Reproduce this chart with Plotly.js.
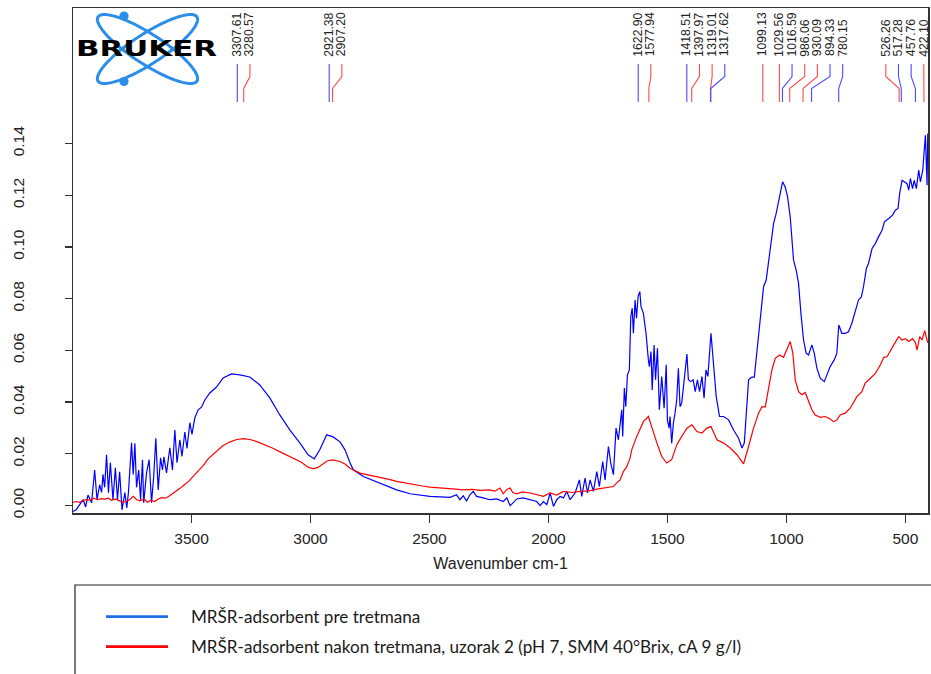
<!DOCTYPE html>
<html><head><meta charset="utf-8">
<script src="https://cdn.plot.ly/plotly-3.0.1.min.js"></script>
<style>html,body{margin:0;padding:0;background:#fff}</style>
</head><body><div id="chart" style="width:931px;height:674px"></div>
<script>
// ---------------- DATA ----------------
const wnBlue = [3998,3985,3970,3955,3945,3935,3920,3907,3897,3886,3878,3872,3865,3857,3849,3841,3830,3820,3811,3802,3792,3786,3780,3772,3765,3752,3745,3738,3731,3722,3714,3706,3701,3689,3678,3668,3659,3650,3640,3630,3622,3616,3605,3591,3580,3570,3561,3549,3540,3528,3519,3507,3498,3486,3472,3458,3444,3423,3395,3367,3332,3297,3255,3213,3171,3129,3087,3045,3010,2984,2961,2932,2905,2876,2855,2834,2820,2778,2708,2638,2582,2498,2414,2386,2372,2358,2344,2330,2316,2302,2274,2246,2217,2190,2175,2161,2150,2133,2106,2077,2049,2035,2021,2007,1993,1979,1965,1951,1937,1923,1909,1888,1870,1860,1846,1836,1825,1811,1797,1786,1772,1762,1748,1738,1727,1716,1706,1692,1688,1681,1675,1668,1660,1654,1648,1643,1636,1630,1623,1616,1611,1601,1590,1580,1576,1569,1564,1556,1550,1542,1534,1524,1514,1505,1500,1493,1489,1482,1475,1468,1461,1454,1447,1440,1429,1418,1412,1402,1392,1383,1374,1365,1355,1346,1338,1330,1317,1306,1295,1281,1264,1243,1222,1201,1187,1177,1173,1164,1159,1152,1145,1135,1124,1110,1096,1085,1075,1065,1054,1043,1033,1023,1016,1005,995,984,977,970,959,949,939,928,917,907,893,883,872,858,841,830,816,799,788,780,767,753,739,725,711,697,685,676,664,655,640,626,613,598,588,577,570,554,542,531,524,514,503,493,486,479,470,463,454,444,437,427,416,409,406];
const absBlue = [-0.0023,-0.0017,0.0003,0.0022,-0.0006,0.004,0.001,0.0137,0.0022,0.008,0.005,0.012,0.007,0.0196,0.0049,0.0165,0.0022,0.0146,0.0022,0.013,-0.0017,0.002,0.005,-0.001,0.005,0.0242,0.012,0.024,0.007,0.0137,0.0022,0.0177,0.001,0.0126,0.0177,0.001,0.011,0.026,0.006,0.0184,0.0137,0.0188,0.0126,0.0223,0.0137,0.0292,0.0165,0.0254,0.019,0.0284,0.022,0.032,0.0275,0.0339,0.037,0.038,0.0408,0.0435,0.0458,0.0493,0.0509,0.0505,0.0497,0.0466,0.0416,0.035,0.0292,0.0242,0.0196,0.018,0.0215,0.0273,0.0265,0.0246,0.0215,0.0165,0.0138,0.0112,0.0087,0.006,0.0045,0.0035,0.0031,0.0041,0.0022,0.0037,0.0018,0.0041,0.0054,0.0035,0.0029,0.0022,0.0025,0.0015,0.0029,-0.0001,0.0009,0.0025,0.0029,0.0022,0.0015,-0.0001,0.0015,0.0003,0.0048,-0.0004,0.0022,0.0035,0.0029,0.0054,0.0022,0.0048,0.0099,0.0035,0.0106,0.0048,0.0099,0.0054,0.0131,0.0073,0.017,0.0099,0.0228,0.0163,0.0119,0.0299,0.0254,0.037,0.0267,0.0454,0.0382,0.0505,0.0524,0.073,0.0763,0.0666,0.0795,0.0724,0.081,0.0827,0.0769,0.0743,0.0666,0.0563,0.0537,0.0595,0.0447,0.0621,0.0486,0.0608,0.037,0.0499,0.0376,0.0544,0.0331,0.0299,0.0344,0.0241,0.0318,0.0357,0.0408,0.0531,0.0382,0.0396,0.0486,0.0586,0.0486,0.0479,0.0486,0.044,0.0486,0.044,0.0499,0.0415,0.0524,0.0499,0.0666,0.055,0.0421,0.0344,0.0344,0.0331,0.0292,0.026,0.0222,0.0241,0.0305,0.0421,0.0486,0.0492,0.0496,0.0496,0.0589,0.0717,0.0846,0.0872,0.0936,0.1014,0.109,0.113,0.118,0.1232,0.1252,0.1232,0.1194,0.1116,0.1026,0.0949,0.091,0.0859,0.0743,0.064,0.0589,0.0582,0.0621,0.0589,0.0531,0.0492,0.0479,0.0505,0.0537,0.0563,0.0589,0.0698,0.0666,0.0666,0.0672,0.0705,0.075,0.0795,0.0807,0.0846,0.0917,0.0936,0.0994,0.1014,0.1039,0.1065,0.1097,0.1104,0.111,0.1123,0.1142,0.1149,0.1207,0.1258,0.1252,0.1245,0.122,0.1265,0.1226,0.1258,0.1226,0.1297,0.1252,0.1297,0.1432,0.1239,0.1439];

const wnRed = [3998,3985,3970,3955,3940,3925,3910,3895,3880,3865,3850,3835,3820,3805,3790,3775,3760,3745,3730,3715,3700,3685,3670,3655,3640,3625,3610,3595,3580,3565,3550,3530,3510,3490,3470,3450,3430,3410,3390,3370,3340,3310,3280,3250,3220,3190,3160,3130,3100,3070,3040,3010,2990,2970,2950,2930,2907,2876,2855,2834,2792,2750,2708,2670,2638,2600,2568,2530,2498,2460,2428,2390,2358,2320,2288,2250,2225,2204,2190,2175,2161,2150,2133,2110,2077,2050,2021,1993,1965,1937,1900,1867,1830,1797,1769,1741,1727,1713,1699,1685,1671,1657,1650,1629,1601,1580,1559,1544,1524,1503,1482,1461,1440,1418,1397,1376,1355,1334,1317,1292,1264,1236,1208,1187,1180,1159,1138,1117,1103,1089,1075,1061,1047,1029,1012,998,984,973,963,949,935,921,907,893,879,858,837,816,802,788,774,753,732,715,704,683,669,647,626,605,591,577,563,549,528,514,500,486,470,458,451,440,430,419,409,406];
const absRed = [0.0012,0.0015,0.0012,0.002,0.0022,0.002,0.0028,0.0022,0.0026,0.0024,0.0028,0.002,0.0025,0.0018,0.0012,0.0015,0.0022,0.0035,0.0022,0.0018,0.0025,0.0012,0.002,0.0015,0.0025,0.003,0.0028,0.0035,0.0045,0.0052,0.0065,0.008,0.0095,0.0115,0.0135,0.0155,0.018,0.0198,0.0215,0.023,0.0245,0.0255,0.0258,0.0254,0.0245,0.0235,0.0222,0.0208,0.0195,0.0182,0.0168,0.0148,0.0142,0.0146,0.0158,0.0172,0.0176,0.017,0.016,0.0144,0.0125,0.0117,0.011,0.0101,0.0093,0.0086,0.008,0.0075,0.0071,0.0069,0.0067,0.0063,0.006,0.0062,0.0058,0.006,0.0055,0.0067,0.0045,0.0062,0.0067,0.005,0.0045,0.0052,0.0048,0.0042,0.0035,0.0048,0.004,0.0054,0.005,0.0054,0.0056,0.0063,0.0067,0.0071,0.0073,0.0087,0.0099,0.0131,0.015,0.0183,0.0215,0.0267,0.0324,0.0344,0.028,0.0241,0.0189,0.0164,0.0177,0.0234,0.0267,0.0299,0.0312,0.0286,0.028,0.0299,0.0305,0.0254,0.0241,0.0222,0.0196,0.017,0.0161,0.0228,0.0299,0.0357,0.0382,0.038,0.046,0.0524,0.0569,0.0582,0.0573,0.0601,0.0634,0.0589,0.0486,0.044,0.0428,0.0437,0.0402,0.037,0.035,0.0341,0.0344,0.0334,0.0324,0.033,0.035,0.0357,0.0376,0.0402,0.0421,0.044,0.0473,0.0492,0.0511,0.0544,0.0573,0.0575,0.0601,0.0621,0.0653,0.064,0.0645,0.0634,0.0645,0.063,0.0601,0.0653,0.064,0.0676,0.064,0.063];

const seriesNames = ['MRŠR-adsorbent pre tretmana',
  'MRŠR-adsorbent nakon tretmana, uzorak 2 (pH 7, SMM 40°Brix, cA 9 g/l)'];

// picked peaks (wavenumber) and the series each belongs to (0 = blue, 1 = red)
const peakWn =     [3307.61,3280.57,2921.38,2907.20,1622.90,1577.94,1418.51,1397.97,1319.01,1317.62,1099.13,1029.56,1016.59,986.06,930.09,894.33,780.15,526.26,517.28,457.76,422.10];
const peakSeries = [0,1,0,1,0,1,0,1,1,0,1,1,0,1,1,0,0,1,0,0,1];

const xTickVals = [3500,3000,2500,2000,1500,1000,500];
const yTickVals = [0,0.02,0.04,0.06,0.08,0.10,0.12,0.14];
const yTickText = ['0.00','0.02','0.04','0.06','0.08','0.10','0.12','0.14'];
const xTitle = 'Wavenumber cm-1';
const logoText = 'BRUKER';

// ---------------- GEOMETRY / STYLE ----------------
const W = 931, H = 674;
const M = {l:73, r:3, t:8, b:161};
const PW = W - M.l - M.r, PH = H - M.t - M.b;
const xRange = [3998, 405];
const yRange = [-0.00294, 0.19246];
const xp = px => (px - M.l) / PW;          // pixel -> paper
const yp = py => (H - M.b - py) / PH;
const lineBlue = '#0000ff', lineRed = '#ff0000';
const markBlue = '#4a4aff', markRed = '#ff4a4a';
const legendBlue = '#1f6fe8', legendRed = '#ff0000';
const logoBlue = '#2b8ee8';
const fontMain = 'Liberation Sans, Arial, sans-serif';

// ---------------- TRACES ----------------
const traces = [
  {x: wnBlue, y: absBlue, type:'scatter', mode:'lines', name: seriesNames[0],
   line:{color: lineBlue, width:1.2}, legend:'legend'},
  {x: wnRed, y: absRed, type:'scatter', mode:'lines', name: seriesNames[1],
   line:{color: lineRed, width:1.2}, legend:'legend2'}
];

// ---------------- PEAK LABELS ----------------
const wnPerPx = (xRange[0] - xRange[1]) / PW;
const gapWn = 12.66 * wnPerPx;
const limitWn = xRange[1] + 4.2 * wnPerPx;
const lab = [];
for (let i = 0; i < peakWn.length; i++) {
  lab[i] = i === 0 ? peakWn[i] : Math.min(peakWn[i], lab[i-1] - gapWn);
}
if (lab[lab.length-1] < limitWn) lab[lab.length-1] = limitWn;
for (let i = lab.length - 2; i >= 0; i--) lab[i] = Math.max(lab[i], lab[i+1] + gapWn);

const shapes = [];
const annotations = [];
peakWn.forEach((wn, i) => {
  const c = peakSeries[i] === 0 ? markBlue : markRed;
  shapes.push({type:'path', xref:'x', yref:'paper', layer:'above',
    path:`M${lab[i]},${yp(64)} L${lab[i]},${yp(76.5)} L${wn},${yp(88.5)} L${wn},${yp(102)}`,
    line:{color:c, width:1.1}});
  annotations.push({xref:'x', yref:'paper', x: lab[i], y: yp(57.5), text: wn.toFixed(2),
    textangle:-90, xanchor:'center', yanchor:'bottom', showarrow:false, borderpad:0,
    font:{family: fontMain, size:12.2, color:'#222'}});
});

// ---------------- LOGO ----------------
function ellipsePts(cx, cy, a, b, deg) {
  const th = deg * Math.PI / 180, pts = [];
  for (let k = 0; k <= 120; k++) {
    const t = 2 * Math.PI * k / 120;
    const ex = a * Math.cos(t), ey = b * Math.sin(t);
    pts.push([cx + ex * Math.cos(th) - ey * Math.sin(th), cy + ex * Math.sin(th) + ey * Math.cos(th)]);
  }
  return pts;
}
const lc = {x:147.5, y:49, a:59, b:15, ang:33};
[lc.ang, -lc.ang].forEach(ang => {
  const pts = ellipsePts(lc.x, lc.y, lc.a, lc.b, ang);
  shapes.push({type:'path', xref:'paper', yref:'paper', layer:'above',
    path: pts.map((p, k) => (k ? 'L' : 'M') + xp(p[0]).toFixed(5) + ',' + yp(p[1]).toFixed(5)).join(' ') + ' Z',
    line:{color: logoBlue, width:3}, fillcolor:'rgba(0,0,0,0)'});
});
[[124, 16], [124, 81.5]].forEach(([cx, cy]) => {
  const r = 4.6;
  shapes.push({type:'circle', xref:'paper', yref:'paper', layer:'above',
    x0: xp(cx - r), x1: xp(cx + r), y0: yp(cy + r), y1: yp(cy - r),
    fillcolor: logoBlue, line:{width:0}});
});
annotations.push({xref:'paper', yref:'paper', x: xp(146.5), y: yp(49.5), text: logoText,
  showarrow:false, xanchor:'center', yanchor:'middle', borderpad:0,
  font:{family:'DejaVu Sans, sans-serif', size:21, weight:700, color:'#000'}});

// legend frame
shapes.push({type:'rect', xref:'paper', yref:'paper', layer:'above',
  x0: xp(75), x1: xp(960), y0: yp(585), y1: yp(700),
  line:{color:'#222', width:1.2}, fillcolor:'rgba(0,0,0,0)'});

const legendStyle = (py) => ({x: xp(101), y: yp(py), xanchor:'left', yanchor:'middle',
  bgcolor:'rgba(0,0,0,0)', borderwidth:0, itemwidth:80,
  font:{family:'Lato, Carlito, sans-serif', size:17.1, color:'#1a1a1a'}});

const layout = {
  width: W, height: H, margin: M, paper_bgcolor:'#fff', plot_bgcolor:'#fff',
  showlegend: true,
  legend: legendStyle(617), legend2: legendStyle(647),
  xaxis: {range: xRange, tickvals: xTickVals, ticks:'outside', ticklen:8, tickwidth:1.3,
    tickcolor:'#333', showline:true, mirror:true, linecolor:'#333', linewidth:1.5,
    showgrid:false, zeroline:false, ticklabelstandoff:3,
    tickfont:{family: fontMain, size:15.5, color:'#222'},
    title:{text: xTitle, font:{family: fontMain, size:16, color:'#222'}, standoff:11}},
  yaxis: {range: yRange, tickvals: yTickVals, ticktext: yTickText, tickangle:-90,
    ticks:'outside', ticklen:7, tickwidth:1.3, tickcolor:'#333',
    showline:true, mirror:true, linecolor:'#333', linewidth:1.5,
    showgrid:false, zeroline:false, ticklabelstandoff:34,
    tickfont:{family: fontMain, size:15.5, color:'#222'}},
  shapes: shapes, annotations: annotations
};

Plotly.newPlot('chart', traces, layout, {displayModeBar:false, staticPlot:true}).then(gd => {
  const host = gd.getBoundingClientRect();
  // widen the logo lettering to the extended Bruker wordmark
  const idx = annotations.length - 1;
  const t = gd.querySelector(`.annotation[data-index="${idx}"] text`);
  if (t) {
    t.setAttribute('textLength', '141');
    t.setAttribute('lengthAdjust', 'spacingAndGlyphs');
    const r = t.getBoundingClientRect();
    t.setAttribute('x', (parseFloat(t.getAttribute('x') || 0) + (76 - (r.left - host.left))).toString());
  }
  // legend samples: 62 px long, thicker, as in the original legend
  gd.querySelectorAll('.legendlines path').forEach(p => {
    const bb = p.getBBox();
    p.setAttribute('d', `M${bb.x},0h62`);
    const s = (p.style.stroke || '').replace(/\s/g, '');
    p.style.strokeWidth = '2.6px';
    if (s === 'rgb(0,0,255)') p.style.stroke = legendBlue;
  });
});
</script>
</body></html>
